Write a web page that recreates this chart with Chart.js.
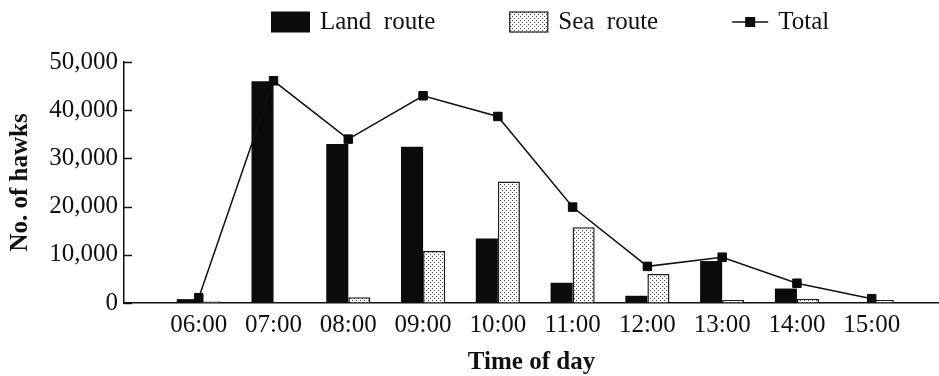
<!DOCTYPE html>
<html>
<head>
<meta charset="utf-8">
<title>Hawk migration by time of day</title>
<script src="https://cdn.jsdelivr.net/npm/chart.js@4.4.1/dist/chart.umd.min.js"></script>
<style>
  html, body { margin: 0; padding: 0; background: #fff; overflow: hidden; }
  #wrap { width: 939px; height: 376px; }
</style>
</head>
<body>
<div id="wrap"><canvas id="chart" width="939" height="376"></canvas></div>
<script>
// Hourly counts of migrating hawks
const hours = ['06:00', '07:00', '08:00', '09:00', '10:00', '11:00', '12:00', '13:00', '14:00', '15:00'];
const landRoute = [800, 46000, 33000, 32400, 13400, 4200, 1500, 8700, 3000, 0];
const seaRoute  = [300, 0, 1200, 10800, 25200, 15700, 6000, 600, 900, 600];
const total     = [1100, 46100, 34000, 43000, 38700, 19900, 7600, 9500, 4100, 900];
const yTicks    = [0, 10000, 20000, 30000, 40000, 50000];

const SERIF = '"Liberation Serif", "Times New Roman", serif';
const INK = '#111';

// hour slots sit at x = 1..10 on a linear axis that starts one slot early
const toPoints = arr => arr.map((v, i) => ({ x: i + 1, y: v }));

// dotted fill used for the sea-route bars
function dotPattern() {
  const c = document.createElement('canvas');
  c.width = 4; c.height = 4;
  const g = c.getContext('2d');
  g.fillStyle = '#fff';
  g.fillRect(0, 0, 4, 4);
  g.fillStyle = '#444';
  g.fillRect(0, 0, 1, 1);
  g.fillRect(2, 2, 1, 1);
  return g.createPattern(c, 'repeat');
}
const seaFill = dotPattern();

// short tick marks pointing into the plot from the y axis
const innerTicks = {
  id: 'innerTicks',
  afterDraw(chart) {
    const y = chart.scales.y, left = chart.chartArea.left, ctx = chart.ctx;
    ctx.save();
    ctx.strokeStyle = INK;
    ctx.lineWidth = 1.5;
    y.ticks.forEach(t => {
      const py = Math.round(y.getPixelForValue(t.value)) + 0.5;
      ctx.beginPath();
      ctx.moveTo(left, py);
      ctx.lineTo(left + 8, py);
      ctx.stroke();
    });
    ctx.restore();
  }
};

// single-row legend across the top
const legendRow = {
  id: 'legendRow',
  afterDraw(chart) {
    const ctx = chart.ctx;
    const cy = 22;
    let x = 271;
    ctx.save();
    ctx.font = '25px ' + SERIF;
    ctx.textBaseline = 'middle';
    chart.data.datasets.forEach(ds => {
      let w;
      if (ds.type === 'line') {
        w = 36;
        ctx.strokeStyle = ds.borderColor;
        ctx.lineWidth = ds.borderWidth;
        ctx.beginPath();
        ctx.moveTo(x, cy); ctx.lineTo(x + w, cy);
        ctx.stroke();
        ctx.fillStyle = ds.pointBackgroundColor;
        ctx.fillRect(x + w / 2 - 5, cy - 5, 10, 10);
      } else {
        w = 39;
        ctx.fillStyle = ds.backgroundColor;
        ctx.fillRect(x, cy - 10.5, w, 21);
        if (ds.borderWidth) {
          ctx.strokeStyle = ds.borderColor;
          ctx.lineWidth = 1.2;
          ctx.strokeRect(x + 0.5, cy - 10, w - 1, 20);
        }
      }
      ctx.fillStyle = INK;
      ctx.fillText(ds.label, x + w + 10, cy);
      x += w + 10 + ctx.measureText(ds.label).width + 74;
    });
    ctx.restore();
  }
};

new Chart(document.getElementById('chart'), {
  data: {
    datasets: [
      {
        type: 'bar', label: 'Land  route', data: toPoints(landRoute),
        backgroundColor: '#0b0b0b', borderWidth: 0,
        categoryPercentage: 0.59, barPercentage: 1, order: 1
      },
      {
        type: 'bar', label: 'Sea  route', data: toPoints(seaRoute),
        backgroundColor: seaFill, borderColor: '#1c1c1c', borderWidth: 1.5,
        categoryPercentage: 0.59, barPercentage: 1, order: 1
      },
      {
        type: 'line', label: 'Total', data: toPoints(total),
        borderColor: INK, borderWidth: 1.5, tension: 0,
        pointStyle: 'rect', pointRadius: 6, pointBorderWidth: 1,
        pointBackgroundColor: '#0b0b0b', pointBorderColor: '#0b0b0b',
        order: 0
      }
    ]
  },
  options: {
    responsive: false,
    devicePixelRatio: 1,
    animation: false,
    events: [],
    layout: { autoPadding: false, padding: { top: 62, right: 0, bottom: 0, left: 0 } },
    plugins: { legend: { display: false }, tooltip: { enabled: false } },
    scales: {
      x: {
        type: 'linear',
        offset: false,
        min: 0,
        max: 10.9,
        afterBuildTicks: s => { s.ticks = hours.map((_, i) => ({ value: i + 1 })); },
        afterFit: s => { s.height = 73; s.paddingLeft = 0; s.paddingRight = 0; },
        ticks: {
          autoSkip: false, maxRotation: 0, padding: 7, color: INK,
          font: { family: SERIF, size: 25 },
          callback: v => hours[v - 1] ?? ''
        },
        grid: { drawOnChartArea: false, drawTicks: false },
        border: { display: true, color: INK, width: 1.5 },
        title: {
          display: true, text: 'Time of day', color: INK,
          font: { family: SERIF, size: 25, weight: 'bold', lineHeight: 1.1 },
          padding: { top: 0, bottom: 0 }
        }
      },
      y: {
        min: 0,
        max: 50000,
        afterBuildTicks: s => { s.ticks = yTicks.map(v => ({ value: v })); },
        afterFit: s => { s.width = 124; },
        ticks: {
          padding: 6, color: INK,
          font: { family: SERIF, size: 25 },
          callback: v => v.toLocaleString('en-US')
        },
        grid: { drawOnChartArea: false, drawTicks: false },
        border: { display: true, color: INK, width: 1.5 },
        title: {
          display: true, text: 'No. of hawks', color: INK,
          font: { family: SERIF, size: 25, weight: 'bold' },
          padding: { top: 6, bottom: 0 }
        }
      }
    }
  },
  plugins: [innerTicks, legendRow]
});
</script>
</body>
</html>
